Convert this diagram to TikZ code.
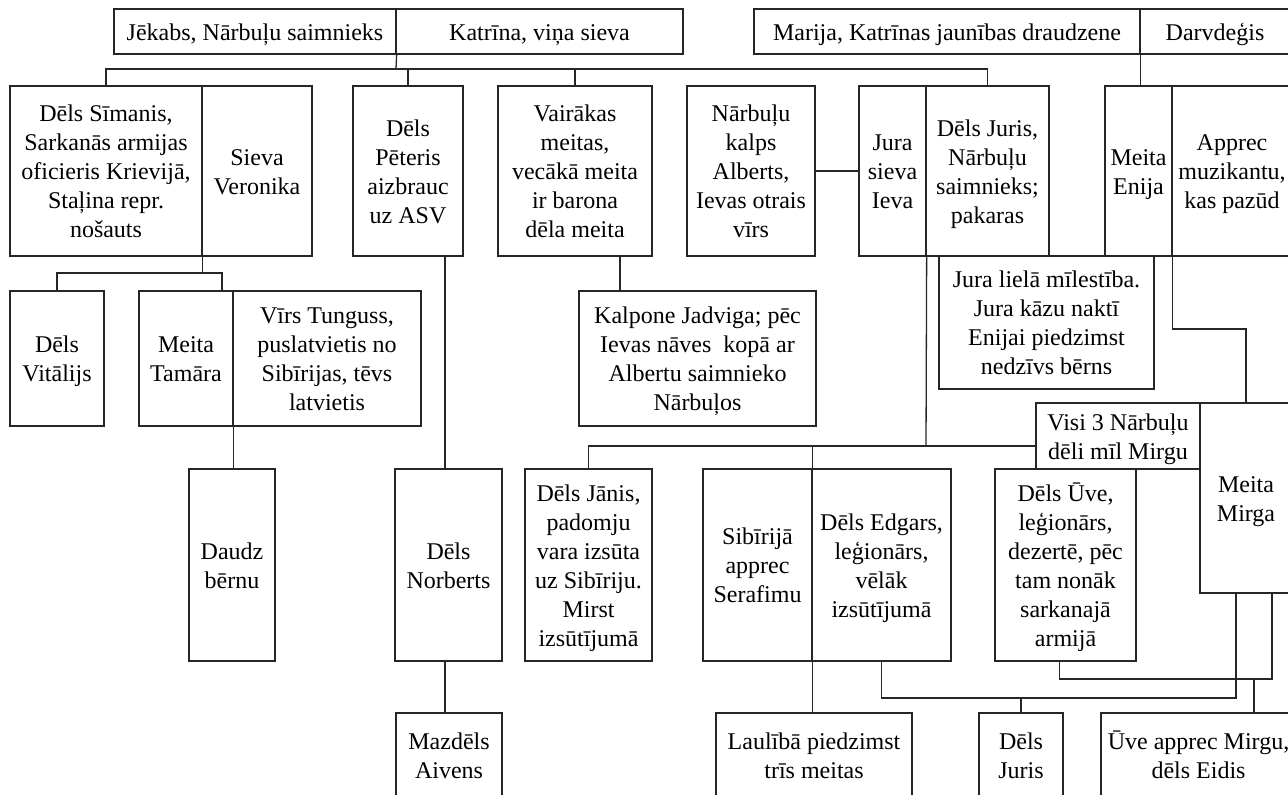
\documentclass[tikz,border=0pt]{standalone}
\usepackage{fontspec}
\setmainfont{Liberation Serif}
\usetikzlibrary{calc}
\newcommand{\tilestrut}{\rule[-3pt]{0pt}{14.5pt}}
\newcommand{\famtile}[6]{%
  % #1 name, #2 left, #3 top, #4 right, #5 bottom, #6 text
  \pgfmathsetmacro{\tilew}{(#4-#2)*0.5}%
  \pgfmathsetmacro{\tileh}{(#5-#3)*0.5}%
  \node[
    tile,
    minimum width=\tilew pt,
    minimum height=\tileh pt
  ] (#1) at ({(#2+#4)/2},{(#3+#5)/2}) {\tilestrut#6\tilestrut};
}

\begin{document}
\begin{tikzpicture}[x=0.5pt,y=-0.5pt]

% boxes and lines
\tikzset{
  tile/.style={draw=black!85, line width=0.65pt, align=center, inner sep=1pt,
    font=\fontsize{12}{14.5}\selectfont},
  link/.style={draw=black!85, line width=0.65pt},
}

\useasboundingbox (0,0) rectangle (1288,794);
\clip (0,0) rectangle (1288,794);

% ---------------- parents ----------------
\famtile{jekabs}{114}{9}{396}{54}{Jēkabs, Nārbuļu saimnieks}
\famtile{katrina}{396}{9}{683}{54}{Katrīna, viņa sieva}
\famtile{marija}{754}{9}{1140}{54}{Marija, Katrīnas jaunības draudzene}
\famtile{darvdegis}{1140}{9}{1290}{54}{Darvdeģis}

% ---------------- children ----------------
\famtile{simanis}{10}{86}{202}{256}{Dēls Sīmanis,\\Sarkanās armijas\\oficieris Krievijā,\\Staļina repr.\\nošauts}
\famtile{veronika}{202}{86}{312}{256}{Sieva\\Veronika}
\famtile{peteris}{353}{86}{463}{256}{Dēls\\Pēteris\\aizbrauc\\uz ASV}
\famtile{vairakas}{498}{86}{652}{256}{Vairākas\\meitas,\\vecākā meita\\ir barona\\dēla meita}
\famtile{kalps}{687}{86}{815}{256}{Nārbuļu\\kalps\\Alberts,\\Ievas otrais\\vīrs}
\famtile{ieva}{859}{86}{926}{256}{Jura\\sieva\\Ieva}
\famtile{juris}{926}{86}{1049}{256}{Dēls Juris,\\Nārbuļu\\saimnieks;\\pakaras}
\famtile{enija}{1105}{86}{1172}{256}{Meita\\Enija}
\famtile{apprec}{1172}{86}{1292}{256}{Apprec\\muzikantu,\\kas pazūd}

% ---------------- grandchildren ----------------
\famtile{vitalijs}{10}{291}{104}{426}{Dēls\\Vitālijs}
\famtile{tamara}{139}{291}{233}{426}{Meita\\Tamāra}
\famtile{tunguss}{233}{291}{421}{426}{Vīrs Tunguss,\\puslatvietis no\\Sibīrijas, tēvs\\latvietis}
\famtile{kalpone}{579}{291}{816}{426}{Kalpone Jadviga; pēc\\Ievas nāves\ \ kopā ar\\Albertu saimnieko\\Nārbuļos}
\famtile{milestiba}{939}{256}{1154}{389}{Jura lielā mīlestība.\\Jura kāzu naktī\\Enijai piedzimst\\nedzīvs bērns}
\famtile{visi}{1036}{403}{1200}{469}{Visi 3 Nārbuļu\\dēli mīl Mirgu}
\famtile{mirga}{1200}{403}{1292}{593}{Meita\\Mirga}

\famtile{daudz}{189}{469}{275}{661}{Daudz\\bērnu}
\famtile{norberts}{395}{469}{502}{661}{Dēls\\Norberts}
\famtile{janis}{525}{469}{652}{661}{Dēls Jānis,\\padomju\\vara izsūta\\uz Sibīriju.\\Mirst\\izsūtījumā}
\famtile{sibirija}{703}{469}{812}{661}{Sibīrijā\\apprec\\Serafimu}
\famtile{edgars}{812}{469}{951}{661}{Dēls Edgars,\\leģionārs,\\vēlāk\\izsūtījumā}
\famtile{uve}{995}{469}{1136}{661}{Dēls Ūve,\\leģionārs,\\dezertē, pēc\\tam nonāk\\sarkanajā\\armijā}

% ---------------- last row ----------------
\famtile{mazdels}{396}{713}{502}{798}{Mazdēls\\Aivens}
\famtile{laulibas}{716}{713}{912}{798}{Laulībā piedzimst\\trīs meitas}
\famtile{dzjuris}{979}{713}{1063}{798}{Dēls\\Juris}
\famtile{eidis}{1101}{713}{1296}{798}{Ūve apprec Mirgu,\\dēls Eidis}

% ---------------- links ----------------
\coordinate (rootbus) at (396,69);
\draw[link] (jekabs.south east) -- (rootbus);
\draw[link] (simanis.north) |- (rootbus) -| (juris.north);
\draw[link] (peteris.north) -- (peteris.north |- rootbus);
\draw[link] (vairakas.north) -- (vairakas.north |- rootbus);
\draw[link] (marija.south east) -- (marija.south east |- enija.north);

\draw[link] (kalps.east) -- (ieva.west);
\draw[link] (juris.south east) -- (enija.south west);

\coordinate (simbus) at (222,273);
\draw[link] (simanis.south east) -- (simanis.south east |- simbus);
\draw[link] (vitalijs.north) |- (simbus) -- (simbus |- tamara.north);
\draw[link] (tamara.south east) -- (tamara.south east |- daudz.north);

\coordinate (norlink) at (445,256);
\draw[link] (norlink) -- (norlink |- norberts.north);
\draw[link] (norlink |- norberts.south) -- (norlink |- mazdels.north);

\coordinate (jadlink) at (620,256);
\draw[link] (jadlink) -- (jadlink |- kalpone.north);

\coordinate (mirgabend) at (1246,329);
\draw[link] (enija.south east) |- (mirgabend) -- (mirgabend |- mirga.north);

\coordinate (jurbus) at (926,446);
\draw[link] (ieva.south east) -- (jurbus);
\draw[link] (janis.north) |- (visi.west |- jurbus);
\draw[link] (sibirija.north east) -- (sibirija.north east |- jurbus);

\draw[link] (sibirija.south east) -- (sibirija.south east |- laulibas.north);

\coordinate (edgbus) at (1236,698);
\draw[link] (edgars.south) |- (edgbus) -- (edgbus |- mirga.south);
\draw[link] (dzjuris.north) -- (dzjuris.north |- edgbus);

\coordinate (uvebus) at (1272,679);
\draw[link] ([xshift=-3pt]uve.south) |- (uvebus) -- (uvebus |- mirga.south);
\coordinate (eidlink) at (1254,679);
\draw[link] (eidlink) -- (eidlink |- eidis.north);

\end{tikzpicture}
\end{document}
